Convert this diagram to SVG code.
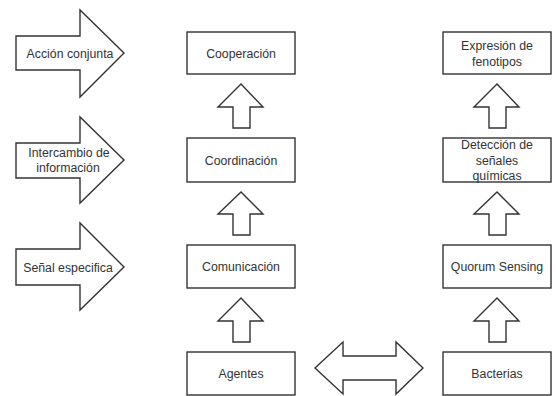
<svg xmlns="http://www.w3.org/2000/svg" width="556" height="396" viewBox="0 0 556 396">
<style>
.s{fill:#fff;stroke:#333;stroke-width:1.4;stroke-linejoin:miter}
.t{font-family:"Liberation Sans",Arial,sans-serif;font-size:12.3px;fill:#333;text-anchor:middle}
</style>
<rect width="556" height="396" fill="#fff"/>
<g id="connectors">
<polygon class="s" points="233,128 233,107 218,107 241,84 263,107 250,107 250,128"/>
<polygon class="s" points="233,235 233,214 218,214 241,192 263,214 250,214 250,235"/>
<polygon class="s" points="233,342 233,321 218,321 241,298 263,321 250,321 250,342"/>
<polygon class="s" points="489,128 489,107 474,107 497,84 519,107 506,107 506,128"/>
<polygon class="s" points="489,235 489,214 474,214 497,192 519,214 506,214 506,235"/>
<polygon class="s" points="489,342 489,321 474,321 497,298 519,321 506,321 506,342"/>
<polygon class="s" points="315,368 343,342 343,356 396,356 396,342 423,368 396,394 396,380 343,380 343,394"/>
</g>
<g id="accion"><polygon class="s" points="16,36 80,36 80,10 124,53 80,97 80,70 16,70"/><text class="t" x="70" y="57.5">Acción conjunta</text></g>
<g id="intercambio"><polygon class="s" points="16,143 80,143 80,117 124,160 80,203 80,178 16,178"/><text class="t" x="69" y="157">Intercambio de</text><text class="t" x="68" y="171.5">información</text></g>
<g id="senal"><polygon class="s" points="16,249 80,249 80,223 124,267 80,310 80,285 16,285"/><text class="t" x="68" y="271.5">Señal especifica</text></g>
<g id="cooperacion"><rect class="s" x="187" y="32" width="108" height="42"/><text class="t" x="241" y="57.5">Cooperación</text></g>
<g id="coordinacion"><rect class="s" x="187" y="138" width="108" height="44"/><text class="t" x="241" y="164.5">Coordinación</text></g>
<g id="comunicacion"><rect class="s" x="187" y="245" width="108" height="43"/><text class="t" x="241" y="271">Comunicación</text></g>
<g id="agentes"><rect class="s" x="187" y="352" width="108" height="43"/><text class="t" x="241" y="378">Agentes</text></g>
<g id="expresion"><rect class="s" x="443" y="32" width="108" height="42"/><text class="t" x="497" y="49.5">Expresión de</text><text class="t" x="497" y="66">fenotipos</text></g>
<g id="deteccion"><rect class="s" x="443" y="138" width="108" height="44"/><text class="t" x="497" y="149">Detección de</text><text class="t" x="497" y="164.5">señales</text><text class="t" x="497" y="180">químicas</text></g>
<g id="quorum"><rect class="s" x="443" y="245" width="108" height="43"/><text class="t" x="497" y="271">Quorum Sensing</text></g>
<g id="bacterias"><rect class="s" x="443" y="352" width="108" height="43"/><text class="t" x="497" y="378">Bacterias</text></g>
</svg>
